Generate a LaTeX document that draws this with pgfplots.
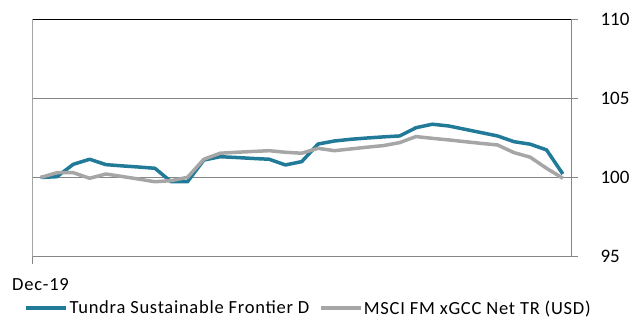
\documentclass[border=0pt]{standalone}
\usepackage{pgfplots}
\usepackage{pgfplotstable}
\pgfplotsset{compat=1.18}
\usepackage{fontspec}
\setmainfont[LetterSpace=4.0]{Carlito}
\newfontfamily\tickfont{Carlito}
\definecolor{tundra}{RGB}{32,122,152}
\definecolor{msci}{RGB}{166,166,166}
\definecolor{axgray}{RGB}{134,134,134}

\pgfplotstableread{
i tundra msci
0 100.00 100.00
1 100.05 100.30
2 100.83 100.30
3 101.15 99.95
4 100.81 100.22
5 100.73 100.06
6 100.66 99.90
7 100.58 99.73
8 99.73 99.80
9 99.73 100.01
10 101.10 101.15
11 101.31 101.53
12 101.26 101.59
13 101.20 101.64
14 101.15 101.69
15 100.79 101.59
16 101.00 101.53
17 102.11 101.84
18 102.30 101.69
19 102.41 101.80
20 102.49 101.91
21 102.56 102.01
22 102.62 102.20
23 103.14 102.58
24 103.36 102.47
25 103.25 102.37
26 103.04 102.26
27 102.83 102.15
28 102.62 102.05
29 102.26 101.57
30 102.10 101.28
31 101.74 100.58
32 100.22 99.95
}\datatable

\begin{document}
\begin{tikzpicture}[font=\fontsize{18.5}{22}\selectfont]
\path[use as bounding box] (0,0) rectangle (635pt,319pt);
\begin{axis}[
  at={(32.5pt,62.3pt)}, anchor=south west,
  scale only axis, width=538.5pt, height=237.7pt,
  xmin=-0.5, xmax=32.5, ymin=95, ymax=110,
  axis x line*=bottom, axis y line*=right,
  axis line style={axgray, line width=0.8pt, -},
  ytick={95,100,105,110},
  /pgf/number format/assume math mode=true,
  yticklabel style={anchor=west, xshift=19pt, font=\tickfont\fontsize{19}{22}\selectfont},
  tick style={axgray, line width=0.8pt},
  major tick length=7pt,
  tick align=outside,
  ymajorgrids, grid style={axgray, line width=0.8pt},
  xtick={-0.5}, xticklabels={Dec-19},
  xticklabel style={anchor=north, xshift=8pt, yshift=-11pt},
  legend style={at={(rel axis cs:0.5125,-0.216)}, anchor=center, draw=none, fill=none,
    /tikz/every even column/.append style={column sep=8pt}, inner sep=0pt,
    nodes={inner xsep=1.5pt}},
  legend columns=2,
  legend cell align=left,
  legend image code/.code={\draw[#1, line width=3.5pt] (0pt,0pt) -- (40pt,0pt);},
  line join=round,
]
\addplot[tundra, line width=3.5pt, no marks] table[x=i, y=tundra] {\datatable};
\addlegendentry{Tundra Sustainable Frontier D}
\addplot[msci, line width=3.5pt, no marks] table[x=i, y=msci] {\datatable};
\addlegendentry{MSCI FM xGCC Net TR (USD)}
\draw[black, line width=0.8pt] (rel axis cs:0,0) -- (rel axis cs:0,1) -- (rel axis cs:1,1);
\end{axis}
\end{tikzpicture}
\end{document}
